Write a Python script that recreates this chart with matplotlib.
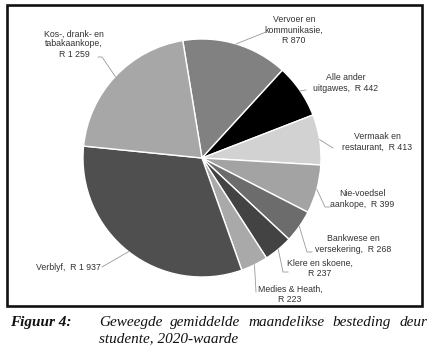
import matplotlib
matplotlib.use("Agg")
import matplotlib.pyplot as plt
from matplotlib.patches import Rectangle
import numpy as np

# data (rand per month, weighted average)
labels = ["Vervoer en\nkommunikasie,\nR 870",
          "Alle ander\nuitgawes,  R 442",
          "Vermaak en\nrestaurant,  R 413",
          "Nie-voedsel\naankope,  R 399",
          "Bankwese en\nversekering,  R 268",
          "Klere en skoene,\nR 237",
          "Medies & Heath,\nR 223",
          "Verblyf,  R 1 937",
          "Kos-, drank- en\ntabakaankope,\nR 1 259"]
values = [870, 442, 413, 399, 268, 237, 223, 1937, 1259]
colors = ["#818181", "#000000", "#d2d2d2", "#a3a3a3", "#6c6c6c",
          "#434343", "#a9a9a9", "#4f4f4f", "#a7a7a7"]
explode = [0, 0, 0, 0, 0, 0, 0, 0.012, 0.012]

W, H = 431, 355
fig = plt.figure(figsize=(W / 100, H / 100), dpi=100)
ax = fig.add_axes([0, 0, 1, 1])
ax.set_xlim(0, W)
ax.set_ylim(0, H)
ax.axis("off")

cx, cy, R = 202, H - 158, 119

wedges, _ = ax.pie(values, colors=colors, startangle=99.3, counterclock=False,
                   center=(cx, cy), radius=R, explode=explode,
                   wedgeprops=dict(edgecolor="white", linewidth=1.0))
ax.set_xlim(0, W)
ax.set_ylim(0, H)
ax.set_aspect("equal")

# label text centre and the point where the leader line leaves the text (pixel coords, y down)
text_pos = [(294, 30), (346, 83), (377, 142), (362, 199), (353, 244),
            (320, 268), (290, 294), (68, 267), (74, 44)]
line_start = [[(266, 32)], [(306, 90)], [(333, 148)], [(330, 207), (325, 207)],
              [(312, 252), (307, 252)], [(288, 272), (283, 272)],
              [(256, 292)], [(102, 267)], [(98, 57), (102, 57)]]

for w, lab, tp, ls in zip(wedges, labels, text_pos, line_start):
    ang = np.deg2rad((w.theta1 + w.theta2) / 2)
    ex, ey = w.center[0] + R * np.cos(ang), w.center[1] + R * np.sin(ang)
    xs = [p[0] for p in ls] + [ex]
    ys = [H - p[1] for p in ls] + [ey]
    ax.plot(xs, ys, color="#9a9a9a", lw=0.6)
    ax.text(tp[0], H - tp[1], lab, ha="center", va="center", fontsize=6.3,
            family="Liberation Sans", color="#333333", linespacing=1.15)

ax.add_patch(Rectangle((7, H - 306), 415, 301, fill=False, edgecolor="#111111",
                       lw=1.9, clip_on=False))

cap = dict(family="Liberation Serif", style="italic", fontsize=11, color="#111111")
ax.text(10, H - 326, "Figuur 4:", weight="bold", va="baseline", **cap)

# justified first caption line
words = "Geweegde gemiddelde maandelikse besteding deur".split()
fig.canvas.draw()
r = fig.canvas.get_renderer()
tw = []
for wd in words:
    t = ax.text(0, 0, wd, **cap)
    tw.append(t.get_window_extent(r).width)
    t.remove()
x0, x1 = 99, 427
gap = (x1 - x0 - sum(tw)) / (len(words) - 1)
x = x0
for wd, wdt in zip(words, tw):
    ax.text(x, H - 326, wd, va="baseline", **cap)
    x += wdt + gap
ax.text(99, H - 342, "studente, 2020-waarde", va="baseline", **cap)

fig.savefig("out.png", dpi=100)
